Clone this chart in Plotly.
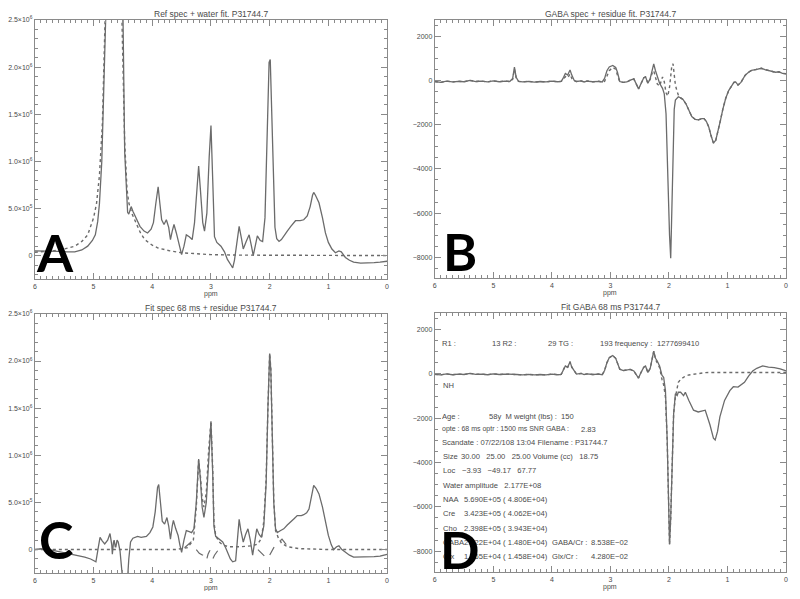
import plotly.graph_objects as go

# ---------------- data ----------------
# A: reference spectrum + water fit
ref_ppm = [6.00, 5.80, 5.60, 5.45, 5.32, 5.20, 5.10, 5.02, 4.97, 4.93, 4.90, 4.86, 4.82, 4.79,
           4.72, 4.68, 4.62, 4.56, 4.50, 4.47, 4.44, 4.42, 4.40, 4.36, 4.33, 4.27, 4.21, 4.14,
           4.08, 4.02, 3.98, 3.94, 3.90, 3.87, 3.84, 3.80, 3.76, 3.72, 3.69, 3.66, 3.63, 3.59,
           3.54, 3.50, 3.46, 3.42, 3.37, 3.32, 3.28, 3.24, 3.21, 3.18, 3.14, 3.11, 3.07, 3.03,
           3.00, 2.97, 2.94, 2.90, 2.83, 2.77, 2.72, 2.66, 2.63, 2.60, 2.56, 2.52, 2.48, 2.45,
           2.40, 2.35, 2.31, 2.28, 2.24, 2.21, 2.16, 2.12, 2.08, 2.04, 2.01, 1.99, 1.97, 1.94,
           1.91, 1.88, 1.84, 1.80, 1.76, 1.70, 1.64, 1.56, 1.48, 1.42, 1.36, 1.31, 1.27, 1.25,
           1.22, 1.16, 1.10, 1.05, 1.00, 0.94, 0.88, 0.82, 0.78, 0.71, 0.64, 0.57, 0.45, 0.34,
           0.22, 0.12, 0.00]
ref_spec = [0.05, 0.05, 0.045, 0.04, 0.04, 0.06, 0.10, 0.16, 0.22, 0.36, 0.55, 1.0, 1.8, 2.6,
            6.0, 8.0, 6.0, 3.0, 2.6, 1.1, 0.6, 0.46, 0.44, 0.52, 0.47, 0.38, 0.31, 0.26,
            0.24, 0.28, 0.35, 0.55, 0.73, 0.55, 0.38, 0.33, 0.38, 0.30, 0.17, 0.26, 0.33, 0.24,
            0.12, 0.01, 0.10, 0.22, 0.20, 0.17, 0.35, 0.75, 0.95, 0.70, 0.35, 0.26, 0.45, 1.05,
            1.38, 0.80, 0.20, 0.14, 0.10, 0.04, -0.04, -0.10, -0.13, -0.05, 0.15, 0.31, 0.18, 0.07,
            0.15, 0.22, 0.10, 0.00, 0.12, 0.21, 0.16, 0.15, 0.40, 1.20, 2.05, 2.08, 1.60, 0.80,
            0.30, 0.18, 0.15, 0.17, 0.21, 0.26, 0.31, 0.37, 0.37, 0.38, 0.42, 0.52, 0.64, 0.67,
            0.64, 0.56, 0.40, 0.24, 0.14, 0.07, 0.03, 0.05, 0.04, -0.02, -0.05, -0.07, -0.08, -0.08,
            -0.075, -0.07, -0.06]
water_ppm = [6.0, 5.7, 5.5, 5.32, 5.2, 5.1, 5.0, 4.95, 4.9, 4.85, 4.8, 4.75, 4.68, 4.6, 4.52,
             4.47, 4.43, 4.40, 4.35, 4.30, 4.2, 4.13, 4.0, 3.9, 3.7, 3.5, 3.2, 3.0, 2.5, 2.0, 1.0, 0.0]
water_fit = [0.035, 0.05, 0.07, 0.10, 0.15, 0.22, 0.40, 0.55, 0.85, 1.4, 2.6, 4.5, 8.0, 4.0, 2.6,
             1.2, 0.7, 0.56, 0.45, 0.38, 0.24, 0.17, 0.11, 0.08, 0.05, 0.03, 0.015, 0.01, 0.005,
             0.003, 0.0, 0.0]

# B: GABA spectrum + residue fit
gaba_ppm = [6.00, 5.90, 5.80, 5.70, 5.60, 5.50, 5.40, 5.30, 5.20, 5.10, 5.00, 4.90, 4.80, 4.72,
            4.67, 4.64, 4.61, 4.57, 4.50, 4.40, 4.30, 4.20, 4.10, 4.00, 3.90, 3.84, 3.80, 3.77,
            3.73, 3.69, 3.66, 3.62, 3.58, 3.50, 3.45, 3.40, 3.30, 3.20, 3.14, 3.10, 3.06, 3.02,
            2.96, 2.91, 2.88, 2.84, 2.78, 2.72, 2.66, 2.60, 2.55, 2.52, 2.48, 2.43, 2.40, 2.36,
            2.32, 2.28, 2.26, 2.23, 2.20, 2.16, 2.11, 2.08, 2.05, 2.02, 1.99, 1.97, 1.95, 1.93,
            1.91, 1.89, 1.86, 1.84, 1.80, 1.76, 1.71, 1.66, 1.61, 1.55, 1.50, 1.44, 1.40, 1.36,
            1.32, 1.28, 1.24, 1.20, 1.16, 1.12, 1.08, 1.03, 0.98, 0.93, 0.89, 0.86, 0.82, 0.77,
            0.70, 0.64, 0.59, 0.52, 0.45, 0.42, 0.36, 0.31, 0.24, 0.18, 0.12, 0.06, 0.00]
gaba_spec = [-40, -80, -20, -60, -30, -50, 10, -40, -20, -60, -10, -50, -20, -40,
             100, 610, 150, -30, -60, -30, -70, -40, -60, -20, -50, -30, 150, 320,
             250, 480, 250, 20, -40, -10, -60, -20, -50, -30, -60, 100, 450, 620,
             690, 600, 380, -40, -80, -60, 20, 80, -200, -380, -150, 130, 170, -120,
             100, 600, 760, 450, 220, -120, -350, -600, -1500, -4500, -7000, -8050, -6000, -3000,
             -1300, -880, -760, -730, -780, -850, -1050, -1350, -1630, -1760, -1780, -1720, -1720, -1850,
             -2100, -2500, -2830, -2700, -2300, -1800, -1300, -800, -450, -210, -80, -60, -200, -80,
             240, 380, 460, 500, 520, 560, 500, 460, 420, 380, 400, 330, 310]
residue_fit = [-40, -80, -20, -60, -30, -50, 10, -40, -20, -60, -10, -50, -20, -40,
               60, 520, 120, -30, -60, -30, -70, -40, -60, -20, -50, -30, 80, 180,
               120, 300, 100, -20, -40, -10, -60, -20, -50, -30, -60, -30, 200, 450,
               600, 520, 250, -60, -80, -60, 20, 80, -200, -380, -150, 130, 170, -120,
               60, 400, 450, 200, -150, -250, 170, -50, -550, -700, -300, 200, 700, 760,
               300, -200, -500, -650, -780, -850, -1050, -1350, -1630, -1760, -1780, -1720, -1720, -1850,
               -2100, -2500, -2830, -2700, -2300, -1800, -1300, -800, -450, -210, -80, -60, -200, -80,
               240, 380, 460, 500, 520, 560, 500, 460, 420, 380, 400, 330, 310]

# C: fit spec 68 ms + residue
fit_ppm = [6.00, 5.90, 5.75, 5.60, 5.45, 5.34, 5.25, 5.15, 5.05, 4.96, 4.92, 4.89, 4.85, 4.81,
           4.76, 4.72, 4.69, 4.68, 4.66, 4.65, 4.63, 4.62, 4.60, 4.58, 4.55, 4.52, 4.50, 4.45,
           4.42, 4.40, 4.37, 4.33, 4.25, 4.19, 4.10, 4.04, 3.99, 3.95, 3.91, 3.89, 3.86, 3.83,
           3.79, 3.75, 3.72, 3.69, 3.66, 3.64, 3.60, 3.56, 3.53, 3.50, 3.46, 3.42, 3.37, 3.33,
           3.29, 3.25, 3.21, 3.18, 3.15, 3.12, 3.08, 3.04, 3.00, 2.97, 2.95, 2.92, 2.86, 2.80,
           2.75, 2.72, 2.67, 2.63, 2.58, 2.55, 2.52, 2.49, 2.45, 2.41, 2.37, 2.33, 2.29, 2.25,
           2.22, 2.18, 2.14, 2.10, 2.06, 2.03, 2.00, 1.98, 1.96, 1.93, 1.90, 1.87, 1.82, 1.76,
           1.70, 1.64, 1.58, 1.53, 1.46, 1.42, 1.37, 1.33, 1.29, 1.25, 1.21, 1.16, 1.10, 1.05,
           1.00, 0.95, 0.91, 0.86, 0.82, 0.77, 0.71, 0.64, 0.57, 0.45, 0.34, 0.22, 0.12, 0.00]
fit_spec = [0.00, 0.01, 0.00, -0.02, -0.04, -0.05, -0.06, -0.08, -0.10, -0.13, 0.02, 0.13, 0.09, 0.06,
            0.10, 0.17, 0.05, -0.05, 0.08, 0.10, 0.03, 0.03, 0.10, 0.08, -0.01, -0.20, -0.35, -0.40,
            -0.30, -0.10, 0.08, 0.12, 0.14, 0.13, 0.14, 0.18, 0.24, 0.40, 0.66, 0.69, 0.45, 0.30,
            0.27, 0.34, 0.25, 0.11, 0.25, 0.31, 0.22, 0.15, 0.05, -0.03, 0.10, 0.20, 0.19, 0.18,
            0.22, 0.50, 0.96, 0.75, 0.45, 0.34, 0.50, 1.00, 1.36, 0.80, 0.25, 0.14, 0.11, 0.08,
            0.02, -0.03, -0.10, -0.13, -0.12, 0.10, 0.32, 0.20, 0.08, 0.16, 0.22, 0.10, -0.06, 0.10,
            0.22, 0.16, 0.13, 0.25, 0.70, 1.50, 2.08, 1.90, 1.20, 0.50, 0.22, 0.18, 0.20, 0.22,
            0.26, 0.29, 0.33, 0.36, 0.36, 0.37, 0.39, 0.43, 0.55, 0.68, 0.65, 0.59, 0.45, 0.29,
            0.15, 0.05, 0.00, 0.03, 0.04, 0.00, -0.03, -0.06, -0.08, -0.08, -0.08, -0.075, -0.07, -0.05]
model_ppm = [6.0, 3.60, 3.40, 3.30, 3.25, 3.21, 3.18, 3.15, 3.12, 3.08, 3.04, 3.00, 2.97, 2.95,
             2.92, 2.86, 2.80, 2.70, 2.50, 2.30, 2.20, 2.14, 2.10, 2.06, 2.03, 2.00, 1.98, 1.96,
             1.93, 1.90, 1.85, 1.80, 1.70, 1.50, 1.0, 0.0]
model_fit = [0.0, 0.0, 0.02, 0.10, 0.45, 0.95, 0.78, 0.55, 0.45, 0.60, 1.05, 1.36, 0.85, 0.30,
             0.15, 0.08, 0.05, 0.03, 0.03, 0.04, 0.06, 0.12, 0.30, 0.75, 1.50, 2.08, 1.92, 1.25,
             0.52, 0.20, 0.12, 0.07, 0.03, 0.01, 0.0, 0.0]
resid_ppm = [3.45, 3.40, 3.34, 3.30, 3.25, 3.20, 3.14, 3.10, 3.08, 3.05, 3.02, 2.99, 2.97, 2.94,
             2.91, 2.86, 2.83, None, 2.20, 2.15, 2.10, 2.04, 2.01, 1.98, 1.93, 1.88, 1.85, 1.79,
             1.74, 1.70, 1.60]
resid_val = [0.02, 0.05, 0.08, 0.06, 0.00, -0.04, -0.06, -0.10, -0.12, -0.05, -0.01, -0.06, -0.10, -0.06,
             -0.03, 0.01, 0.02, None, 0.00, -0.03, -0.06, -0.10, -0.07, -0.03, 0.02, 0.06, 0.08, 0.11,
             0.07, 0.04, 0.00]

# D: fit GABA 68 ms
fg_ppm = [6.00, 5.90, 5.80, 5.70, 5.60, 5.50, 5.40, 5.30, 5.20, 5.10, 5.00, 4.90, 4.80, 4.72,
          4.67, 4.60, 4.50, 4.40, 4.30, 4.20, 4.10, 4.00, 3.90, 3.84, 3.80, 3.77, 3.73, 3.69,
          3.66, 3.62, 3.58, 3.50, 3.45, 3.40, 3.30, 3.20, 3.14, 3.10, 3.06, 3.02, 2.96, 2.91,
          2.88, 2.84, 2.78, 2.72, 2.66, 2.60, 2.55, 2.52, 2.48, 2.43, 2.40, 2.36, 2.32, 2.28,
          2.26, 2.23, 2.20, 2.16, 2.12, 2.09, 2.06, 2.03, 2.00, 1.99, 1.97, 1.95, 1.92, 1.89,
          1.86, 1.84, 1.80, 1.75, 1.72, 1.66, 1.58, 1.50, 1.41, 1.38, 1.30, 1.24, 1.21, 1.17,
          1.13, 1.05, 0.96, 0.90, 0.82, 0.77, 0.71, 0.64, 0.57, 0.50, 0.40, 0.30, 0.20, 0.10, 0.00]
fg_spec = [-20, -50, 0, -40, -10, -30, 20, -20, -10, -40, 0, -30, -10, -30,
           -10, -30, -50, -20, -50, -30, -50, -10, -40, -20, 200, 360, 300, 550,
           300, 130, -10, 20, -30, 0, -30, -10, -40, 150, 500, 725, 830, 700,
           500, 210, 150, 160, 200, 130, -50, -190, 50, 300, 355, 60, 250, 800,
           1020, 700, 580, 355, -60, -160, -755, -3000, -6500, -7700, -6500, -4000, -1800, -900,
           -980, -830, -830, -980, -830, -1200, -1640, -1720, -1640, -1640, -2300, -2900, -2980, -2600,
           -1940, -1200, -755, -580, -600, -500, -385, -100, 130, 250, 355, 300, 280, 220, 130]
fg_fit = [-20, -50, 0, -40, -10, -30, 20, -20, -10, -40, 0, -30, -10, -30,
          -10, -30, -50, -20, -50, -30, -50, -10, -40, -20, 200, 360, 300, 550,
          300, 130, -10, 20, -30, 0, -30, -10, -40, 150, 500, 725, 830, 700,
          500, 210, 150, 160, 200, 130, -50, -190, 50, 300, 355, 60, 250, 800,
          1020, 650, 500, 280, -240, -500, -1050, -3000, -6500, -7700, -6500, -4000, -1800, -1050,
          -700, -385, -250, -160, -100, -50, -15, 30, 50, 55, 60, 60, 60, 60,
          60, 60, 60, 60, 60, 60, 60, 60, 60, 60, 60, 60, 60, 60, 60]

titles = ["Ref spec + water fit. P31744.7", "GABA spec + residue fit. P31744.7",
          "Fit spec 68 ms + residue P31744.7", "Fit GABA 68 ms P31744.7"]
panel_letters = ["A", "B", "C", "D"]
big_ticks = [0, 5e5, 1e6, 1.5e6, 2e6, 2.5e6]
big_ticktext = ["0", "5.0×10<sup>5</sup>", "1.0×10<sup>6</sup>", "1.5×10<sup>6</sup>",
                "2.0×10<sup>6</sup>", "2.5×10<sup>6</sup>"]
small_ticks = [-8000, -6000, -4000, -2000, 0, 2000]

# ---------------- figure ----------------
# the page body keeps its default 8px margin, so the figure is 16px smaller
# and every screen position below is shifted by that offset
OFF = 8
W, H = 800 - 2 * OFF, 599 - 2 * OFF
LINE = "#6b6b6b"
AX = "#8a8a8a"
TXT = "#4a4a4a"
FONT = "Liberation Sans"

def px(x):
    return (x - OFF) / W

def py(y):
    return 1 - (y - OFF) / H

# plot boxes in screen pixels: (left, right, top, bottom)
boxes = [(33, 387, 16, 277), (435, 788, 16, 276), (33, 387, 312, 573), (435, 788, 311, 572)]

fig = go.Figure()

def add(x, y, n, dash="solid", width=1.3):
    fig.add_trace(go.Scatter(x=x, y=y, mode="lines",
                             xaxis="x" if n == 1 else f"x{n}", yaxis="y" if n == 1 else f"y{n}",
                             line=dict(color=LINE, width=width, dash=dash),
                             showlegend=False, hoverinfo="skip"))

add(ref_ppm, [v * 1e6 for v in ref_spec], 1)
add(water_ppm, [v * 1e6 for v in water_fit], 1, "dot", 1.4)
add(gaba_ppm, gaba_spec, 2)
add(gaba_ppm, residue_fit, 2, "dot", 1.4)
add(fit_ppm, [v * 1e6 for v in fit_spec], 3)
add(model_ppm, [v * 1e6 for v in model_fit], 3, "dot", 1.4)
add(resid_ppm, [None if v is None else v * 1e6 for v in resid_val], 3, "dash", 1.2)
add(fg_ppm, fg_spec, 4)
add(fg_ppm, fg_fit, 4, "dot", 1.4)

layout = dict(width=W, height=H, margin=dict(l=0, r=0, t=0, b=0),
              paper_bgcolor="white", plot_bgcolor="white", showlegend=False)

common = dict(showline=True, linecolor=AX, linewidth=1, mirror="ticks", ticks="inside",
              tickcolor=AX, showgrid=False, zeroline=False,
              tickfont=dict(family=FONT, size=7, color=TXT))

for i, (l, r, t, b) in enumerate(boxes):
    n = i + 1
    xa = "xaxis" if n == 1 else f"xaxis{n}"
    ya = "yaxis" if n == 1 else f"yaxis{n}"
    xs = "x" if n == 1 else f"x{n}"
    ys = "y" if n == 1 else f"y{n}"
    layout[xa] = dict(common, domain=[px(l), px(r)], anchor=ys, range=[6, 0],
                      tickvals=[6, 5, 4, 3, 2, 1, 0], ticklen=6,
                      minor=dict(dtick=0.1, ticklen=3, tickcolor=AX, ticks="inside"))
    if n in (1, 3):
        yd = dict(range=[-2.5e5, 2.5e6], tickvals=big_ticks, ticktext=big_ticktext,
                  minor=dict(dtick=1e5, ticklen=3, tickcolor=AX, ticks="inside"))
    else:
        yd = dict(range=[-8950, 2750], tickvals=small_ticks,
                  ticktext=[str(v).replace("-", "−") for v in small_ticks],
                  minor=dict(dtick=500, ticklen=3, tickcolor=AX, ticks="inside"))
    layout[ya] = dict(common, domain=[py(b), py(t)], anchor=xs, ticklen=6, **yd)

fig.update_layout(**layout)

# titles and axis labels
for i, (l, r, t, b) in enumerate(boxes):
    fig.add_annotation(x=px((l + r) / 2), y=py(t - 6), xref="paper", yref="paper",
                       text=titles[i], showarrow=False, xanchor="center", yanchor="middle",
                       font=dict(family=FONT, size=8.5, color=TXT))
    fig.add_annotation(x=px((l + r) / 2), y=py(b + 15), xref="paper", yref="paper",
                       text="ppm", showarrow=False, xanchor="center", yanchor="middle",
                       font=dict(family=FONT, size=7, color=TXT))

# info text in panel D (screen pixel positions, font size)
NB = "\u00a0"
info = [
    ("R1 :", 440, 342, 7.6), ("13 R2 :", 490, 342, 7.6), ("29 TG :", 547, 342, 7.6),
    ("193 frequency :", 599, 342, 7.6), ("1277699410", 656, 342, 7.6),
    ("NH", 441, 384, 7.6),
    ("Age :", 440, 415, 7.6), ("58y" + NB * 2 + "M weight (lbs) :", 487, 415, 7.6), ("150", 560, 415, 7.6),
    ("opte : 68 ms optr : 1500 ms SNR GABA :", 440, 428, 7.0), ("2.83", 580, 428, 7.6),
    ("Scandate : 07/22/108 13:04 Filename : P31744.7", 440, 441, 7.6),
    ("Size", 441, 456, 7.6),
    ("30.00" + NB * 3 + "25.00" + NB * 3 + "25.00 Volume (cc)" + NB * 3 + "18.75", 459, 456, 7.6),
    ("Loc", 441, 470, 7.6), ("−3.93" + NB * 3 + "−49.17" + NB * 3 + "67.77", 460, 470, 7.6),
    ("Water amplitude" + NB * 3 + "2.177E+08", 441, 485, 7.6),
    ("NAA", 441, 499, 7.6), ("5.690E+05 ( 4.806E+04)", 462, 499, 7.6),
    ("Cre", 441, 513, 7.6), ("3.423E+05 ( 4.062E+04)", 462, 513, 7.6),
    ("Cho", 441, 528, 7.6), ("2.398E+05 ( 3.943E+04)", 462, 528, 7.6),
    ("GABA", 441, 542, 7.6), ("2.922E+04 ( 1.480E+04)", 462, 542, 7.6),
    ("GABA/Cr :", 551, 542, 7.6), ("8.538E−02", 590, 542, 7.6),
    ("Glx", 441, 556, 7.6), ("1.465E+04 ( 1.458E+04)", 462, 556, 7.6),
    ("Glx/Cr :", 551, 556, 7.6), ("4.280E−02", 590, 556, 7.6),
]
for s, x, y, fs in info:
    fig.add_annotation(x=px(x), y=py(y), xref="paper", yref="paper", text=s, showarrow=False,
                       xanchor="left", yanchor="middle",
                       font=dict(family=FONT, size=fs, color=TXT))

# big panel letters, drawn last so they sit on top of the curves and text
letter_pos = [(53, 250), (460, 249), (54, 539), (460, 549)]
for s, (x, y) in zip(panel_letters, letter_pos):
    fig.add_annotation(x=px(x), y=py(y), xref="paper", yref="paper", text=s, showarrow=False,
                       xanchor="center", yanchor="middle",
                       font=dict(family="Lato", size=52, color="black", weight="bold"))

fig.write_html("out.html")
